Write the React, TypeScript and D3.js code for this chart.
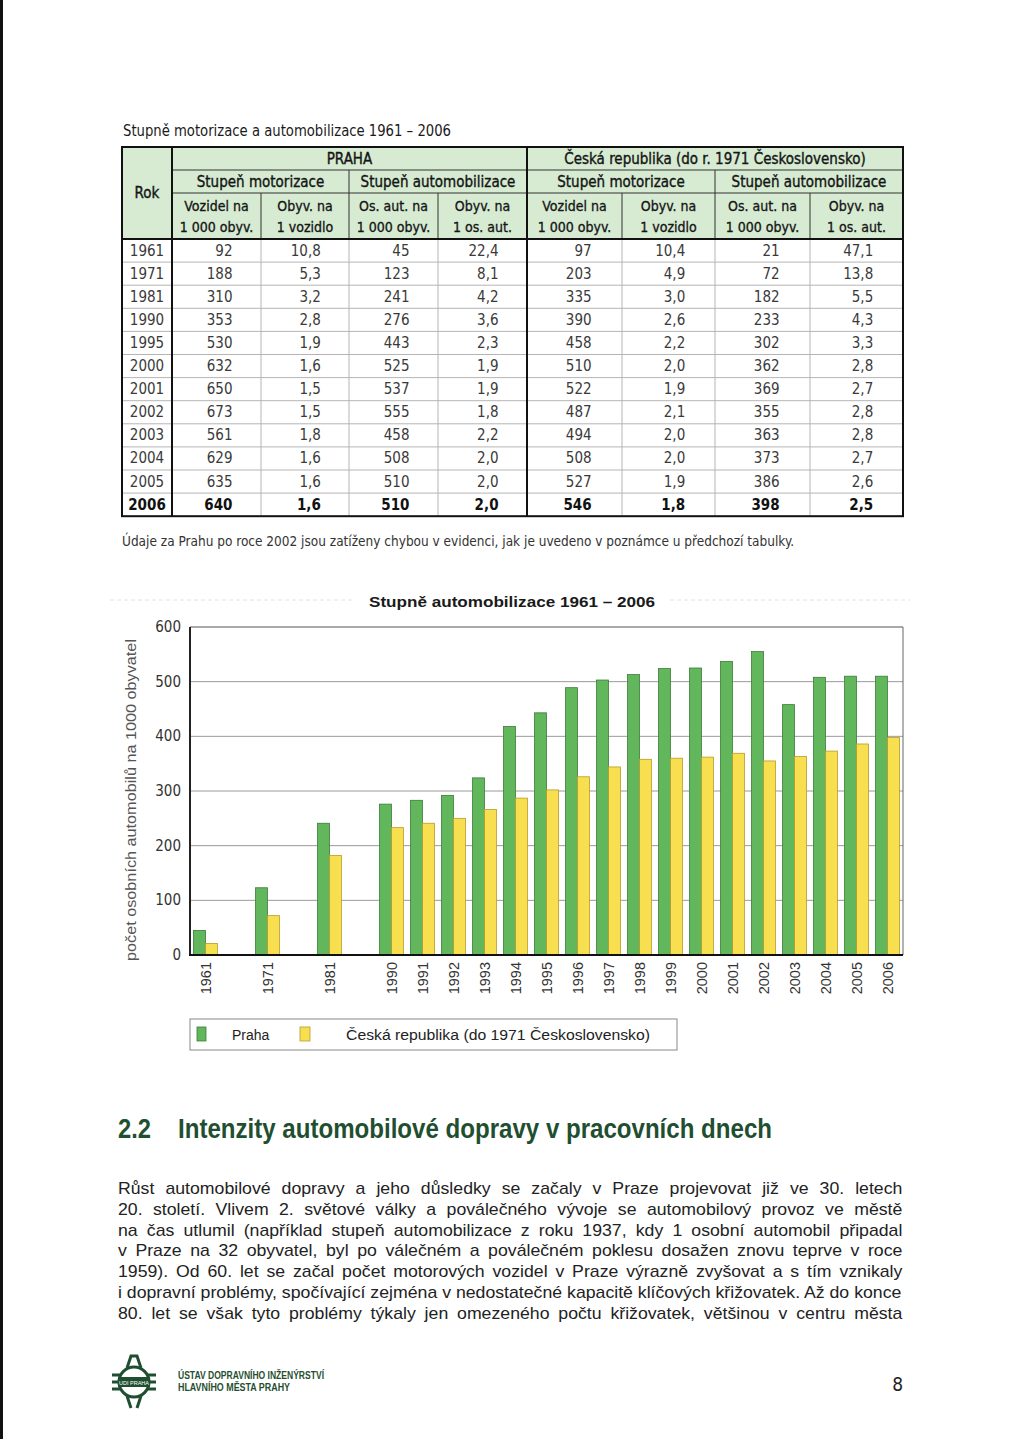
import React from 'react';
import * as d3 from 'd3';

// ---- table data (Stupně motorizace a automobilizace 1961 – 2006) ----
const tableYears = ['1961', '1971', '1981', '1990', '1995', '2000', '2001', '2002', '2003', '2004', '2005', '2006'];
const prahaVozidla = [92, 188, 310, 353, 530, 632, 650, 673, 561, 629, 635, 640];
const prahaObyvNaVozidlo = [10.8, 5.3, 3.2, 2.8, 1.9, 1.6, 1.5, 1.5, 1.8, 1.6, 1.6, 1.6];
const prahaOsAut = [45, 123, 241, 276, 443, 525, 537, 555, 458, 508, 510, 510];
const prahaObyvNaAuto = [22.4, 8.1, 4.2, 3.6, 2.3, 1.9, 1.9, 1.8, 2.2, 2.0, 2.0, 2.0];
const crVozidla = [97, 203, 335, 390, 458, 510, 522, 487, 494, 508, 527, 546];
const crObyvNaVozidlo = [10.4, 4.9, 3.0, 2.6, 2.2, 2.0, 1.9, 2.1, 2.0, 2.0, 1.9, 1.8];
const crOsAut = [21, 72, 182, 233, 302, 362, 369, 355, 363, 373, 386, 398];
const crObyvNaAuto = [47.1, 13.8, 5.5, 4.3, 3.3, 2.8, 2.7, 2.8, 2.8, 2.7, 2.6, 2.5];

const groupHeads = ['PRAHA', 'Česká republika (do r. 1971 Československo)'];
const subGroupHeads = ['Stupeň motorizace', 'Stupeň automobilizace', 'Stupeň motorizace', 'Stupeň automobilizace'];
const colHeads = [
  ['Vozidel na', '1 000 obyv.'],
  ['Obyv. na', '1 vozidlo'],
  ['Os. aut. na', '1 000 obyv.'],
  ['Obyv. na', '1 os. aut.'],
  ['Vozidel na', '1 000 obyv.'],
  ['Obyv. na', '1 vozidlo'],
  ['Os. aut. na', '1 000 obyv.'],
  ['Obyv. na', '1 os. aut.'],
];

// ---- chart data (os. automobilů na 1000 obyvatel) ----
const chartYears = [1961, 1971, 1981, 1990, 1991, 1992, 1993, 1994, 1995, 1996, 1997, 1998, 1999, 2000, 2001, 2002, 2003, 2004, 2005, 2006];
const prahaChart = [45, 123, 241, 276, 283, 292, 324, 418, 443, 489, 503, 513, 524, 525, 537, 555, 458, 508, 510, 510];
const crChart = [21, 72, 182, 233, 241, 250, 266, 287, 302, 326, 344, 358, 360, 362, 369, 355, 363, 373, 386, 398];
const yTicks = [0, 100, 200, 300, 400, 500, 600];
const seriesNames = ['Praha', 'Česká republika (do 1971 Československo)'];

const paragraph = [
  'Růst automobilové dopravy a jeho důsledky se začaly v Praze projevovat již ve 30. letech',
  '20. století. Vlivem 2. světové války a poválečného vývoje se automobilový provoz ve městě',
  'na čas utlumil (například stupeň automobilizace z roku 1937, kdy 1 osobní automobil připadal',
  'v Praze na 32 obyvatel, byl po válečném a poválečném poklesu dosažen znovu teprve v roce',
  '1959). Od 60. let se začal počet motorových vozidel v Praze výrazně zvyšovat a s tím vznikaly',
  'i dopravní problémy, spočívající zejména v nedostatečné kapacitě klíčových křižovatek. Až do konce',
  '80. let se však tyto problémy týkaly jen omezeného počtu křižovatek, většinou v centru města',
];

const NARROW = "'Liberation Sans Narrow', 'Arial Narrow', 'DejaVu Sans Condensed', sans-serif";
const SANS = "'Liberation Sans', Arial, Helvetica, sans-serif";
const GREEN = '#62b65c';
const GREEN_DARK = '#3b7d38';
const YELLOW = '#f7df4f';
const YELLOW_DARK = '#b89b2c';
const HEAD_GREEN = '#1f4f30';

const fmt1 = (v: number) => d3.format('.1f')(v).replace('.', ',');

// text width measuring, used to justify the paragraph
const ctx = document.createElement('canvas').getContext('2d')!;
const measure = (s: string, font: string) => {
  ctx.font = font;
  return ctx.measureText(s).width;
};

const Table: React.FC = () => {
  const cols = [122, 172, 261, 349, 438, 527, 622, 715, 810, 903];
  const top = 147;
  const r1 = 170;
  const r2 = 193;
  const headBottom = 239;
  const rowH = 23.1;
  const y = d3
    .scaleBand()
    .domain(tableYears)
    .range([headBottom, headBottom + rowH * tableYears.length]);
  const bottom = headBottom + rowH * tableYears.length;

  const columns: string[][] = [
    prahaVozidla.map(String),
    prahaObyvNaVozidlo.map(fmt1),
    prahaOsAut.map(String),
    prahaObyvNaAuto.map(fmt1),
    crVozidla.map(String),
    crObyvNaVozidlo.map(fmt1),
    crOsAut.map(String),
    crObyvNaAuto.map(fmt1),
  ];

  const head = { fontSize: 15, fill: '#151515', stroke: '#151515', strokeWidth: 0.35 } as const;

  return (
    <g fontFamily={NARROW}>
      <text x={123} y={136} fontSize={16} fill="#1a1a1a" textLength={328} lengthAdjust="spacingAndGlyphs">
        Stupně motorizace a automobilizace 1961 – 2006
      </text>
      <rect x={cols[0]} y={top} width={cols[9] - cols[0]} height={headBottom - top} fill="#d6ebd2" />

      {/* body grid */}
      {tableYears.slice(1).map((yr) => (
        <line key={'h' + yr} x1={cols[0]} x2={cols[9]} y1={y(yr)!} y2={y(yr)!} stroke="#b5b5b5" strokeWidth={1} />
      ))}
      {[2, 3, 4, 6, 7, 8].map((i) => (
        <line key={'bv' + i} x1={cols[i]} x2={cols[i]} y1={headBottom} y2={bottom} stroke="#b5b5b5" strokeWidth={1} />
      ))}

      {/* header grid */}
      <line x1={cols[1]} x2={cols[9]} y1={r1} y2={r1} stroke="#333" strokeWidth={1} />
      <line x1={cols[1]} x2={cols[9]} y1={r2} y2={r2} stroke="#333" strokeWidth={1} />
      {[3, 7].map((i) => (
        <line key={'hv' + i} x1={cols[i]} x2={cols[i]} y1={r1} y2={headBottom} stroke="#333" strokeWidth={1} />
      ))}
      {[2, 4, 6, 8].map((i) => (
        <line key={'hs' + i} x1={cols[i]} x2={cols[i]} y1={r2} y2={headBottom} stroke="#333" strokeWidth={1} />
      ))}

      {/* thick lines */}
      <line x1={cols[0]} x2={cols[9]} y1={headBottom} y2={headBottom} stroke="#111" strokeWidth={2} />
      <line x1={cols[1]} x2={cols[1]} y1={top} y2={bottom} stroke="#111" strokeWidth={2} />
      <line x1={cols[5]} x2={cols[5]} y1={top} y2={bottom} stroke="#111" strokeWidth={2} />
      <rect x={cols[0]} y={top} width={cols[9] - cols[0]} height={bottom - top} fill="none" stroke="#111" strokeWidth={2} />

      {/* header text */}
      <text x={(cols[0] + cols[1]) / 2} y={198} textAnchor="middle" {...head}>Rok</text>
      {groupHeads.map((g, i) => (
        <text key={g} x={(cols[1 + i * 4] + cols[5 + i * 4]) / 2} y={164} textAnchor="middle" {...head}>
          {g}
        </text>
      ))}
      {subGroupHeads.map((g, i) => (
        <text key={g + i} x={(cols[1 + i * 2] + cols[3 + i * 2]) / 2} y={187} textAnchor="middle" {...head}>
          {g}
        </text>
      ))}
      {colHeads.map((h, i) => (
        <g key={'ch' + i} fontSize={14} fill="#151515" stroke="#151515" strokeWidth={0.3}>
          <text x={(cols[1 + i] + cols[2 + i]) / 2} y={211} textAnchor="middle">{h[0]}</text>
          <text x={(cols[1 + i] + cols[2 + i]) / 2} y={232} textAnchor="middle">{h[1]}</text>
        </g>
      ))}

      {/* body text */}
      {tableYears.map((yr, r) => {
        const last = r === tableYears.length - 1;
        const by = y(yr)! + rowH / 2 + 5;
        return (
          <g key={'row' + yr} fontWeight={last ? 'bold' : 'normal'} fill={last ? '#111' : '#3a3a3a'} fontSize={15}>
            <text x={(cols[0] + cols[1]) / 2} y={by} textAnchor="middle">{yr}</text>
            {columns.map((c, ci) => (
              <text key={ci} x={cols[1 + ci] + 0.68 * (cols[2 + ci] - cols[1 + ci])} y={by} textAnchor="end">
                {c[r]}
              </text>
            ))}
          </g>
        );
      })}

      <text x={122} y={546} fontSize={14} fill="#333" textLength={672} lengthAdjust="spacingAndGlyphs">
        Údaje za Prahu po roce 2002 jsou zatíženy chybou v evidenci, jak je uvedeno v poznámce u předchozí tabulky.
      </text>
    </g>
  );
};

const Chart: React.FC = () => {
  const left = 190;
  const right = 903;
  const top = 627;
  const bottom = 955;

  // category slots, with one empty slot for each gap between non-consecutive years
  const slots: string[] = [];
  chartYears.forEach((yr, i) => {
    if (i > 0 && yr - chartYears[i - 1] > 1) slots.push('gap' + yr);
    slots.push(String(yr));
  });

  const x = d3.scaleBand().domain(slots).range([left, right]).paddingInner(0.226).paddingOuter(0.113);
  const xs = d3.scaleBand().domain(['praha', 'cr']).range([0, x.bandwidth()]);
  const y = d3.scaleLinear().domain([0, 600]).range([bottom, top]);

  return (
    <g>
      <line x1={110} x2={910} y1={600} y2={600} stroke="#e2e2e2" strokeWidth={1} strokeDasharray="4,3" />
      <rect x={355} y={590} width={314} height={20} fill="#fff" />
      <text x={512} y={607} textAnchor="middle" fontFamily={SANS} fontWeight="bold" fontSize={15} fill="#1a1a1a"
        textLength={286} lengthAdjust="spacingAndGlyphs">
        Stupně automobilizace 1961 – 2006
      </text>

      {/* grid */}
      {yTicks.filter((t) => t > 0 && t < 600).map((t) => (
        <line key={'g' + t} x1={left} x2={right} y1={y(t)} y2={y(t)} stroke="#9a9a9a" strokeWidth={1} />
      ))}
      <line x1={left} x2={right} y1={y(600)} y2={y(600)} stroke="#555" strokeWidth={1} />
      <line x1={right} x2={right} y1={y(600)} y2={y(0)} stroke="#666" strokeWidth={1} />

      {/* bars */}
      {chartYears.map((yr, i) => {
        const x0 = x(String(yr))!;
        return (
          <g key={'b' + yr}>
            <rect x={x0 + xs('praha')!} y={y(prahaChart[i])} width={xs.bandwidth()} height={y(0) - y(prahaChart[i])}
              fill={GREEN} stroke={GREEN_DARK} strokeWidth={0.8} />
            <rect x={x0 + xs('cr')!} y={y(crChart[i])} width={xs.bandwidth()} height={y(0) - y(crChart[i])}
              fill={YELLOW} stroke={YELLOW_DARK} strokeWidth={0.8} />
          </g>
        );
      })}

      {/* axes */}
      <line x1={left} x2={left} y1={top} y2={bottom} stroke="#222" strokeWidth={2} />
      <line x1={left - 1} x2={right} y1={bottom} y2={bottom} stroke="#111" strokeWidth={2} />

      {yTicks.map((t) => (
        <text key={'yt' + t} x={181} y={y(t) + 5} textAnchor="end" fontFamily={NARROW} fontSize={15} fill="#333">
          {t}
        </text>
      ))}

      {chartYears.map((yr) => {
        const cx = x(String(yr))! + x.bandwidth() / 2;
        return (
          <text key={'xt' + yr} transform={`translate(${cx},962) rotate(-90)`} textAnchor="end" dy="0.35em"
            fontFamily={SANS} fontSize={14.5} fill="#333">
            {yr}
          </text>
        );
      })}

      <text transform="translate(131,800) rotate(-90)" textAnchor="middle" dy="0.35em" fontFamily={SANS} fontSize={15}
        fill="#555" textLength={322} lengthAdjust="spacingAndGlyphs">
        počet osobních automobilů na 1000 obyvatel
      </text>

      {/* legend */}
      <rect x={190} y={1019} width={487} height={31} fill="#fff" stroke="#888" strokeWidth={1} />
      <rect x={197} y={1027} width={9} height={14} fill={GREEN} stroke={GREEN_DARK} strokeWidth={0.8} />
      <text x={232} y={1040} fontFamily={SANS} fontSize={14} fill="#222">{seriesNames[0]}</text>
      <rect x={300} y={1027} width={10} height={14} fill={YELLOW} stroke={YELLOW_DARK} strokeWidth={0.8} />
      <text x={346} y={1040} fontFamily={SANS} fontSize={14} fill="#222" textLength={304} lengthAdjust="spacingAndGlyphs">
        {seriesNames[1]}
      </text>
    </g>
  );
};

const TextBlock: React.FC = () => {
  const font = "16px 'Liberation Sans'";
  const width = 785;
  const naturals = paragraph.map((l) => measure(l, font));
  // glyph scale chosen so the tightest line is set with plain word spaces
  const sx = d3.min(naturals, (n) => width / n) ?? 1;
  return (
    <g>
      <text x={118} y={1138} fontFamily={SANS} fontWeight="bold" fontSize={27} fill={HEAD_GREEN}
        textLength={33} lengthAdjust="spacingAndGlyphs">2.2</text>
      <text x={178} y={1138} fontFamily={SANS} fontWeight="bold" fontSize={27} fill={HEAD_GREEN}
        textLength={594} lengthAdjust="spacingAndGlyphs">
        Intenzity automobilové dopravy v pracovních dnech
      </text>
      {paragraph.map((line, i) => {
        const spaces = line.split(' ').length - 1;
        const ws = (width / sx - naturals[i]) / spaces;
        return (
          <text key={i} transform={`translate(118,${1194 + i * 20.8}) scale(${sx},1)`} fontFamily={SANS} fontSize={16}
            fill="#222" style={{ wordSpacing: `${ws}px` }}>
            {line}
          </text>
        );
      })}
    </g>
  );
};

const Footer: React.FC = () => (
  <g>
    <g stroke={HEAD_GREEN} fill="none" strokeWidth={3}>
      <circle cx={134} cy={1382} r={15} />
      <path d="M127,1368 L131,1356 L137,1356 L141,1368" />
      <path d="M127,1396 L131,1408 M141,1396 L137,1408" />
      {[1375, 1382, 1389].map((yy) => (
        <g key={yy}>
          <line x1={112} x2={121} y1={yy} y2={yy} />
          <line x1={147} x2={156} y1={yy} y2={yy} />
        </g>
      ))}
    </g>
    <rect x={118} y={1377} width={32} height={10} fill={HEAD_GREEN} />
    <text x={134} y={1384.5} textAnchor="middle" fontFamily={SANS} fontSize={5.5} fill="#fff">UDI PRAHA</text>
    <text x={178} y={1379} fontFamily={SANS} fontWeight="bold" fontSize={10} fill={HEAD_GREEN}
      textLength={146} lengthAdjust="spacingAndGlyphs">ÚSTAV DOPRAVNÍHO INŽENÝRSTVÍ</text>
    <text x={178} y={1391} fontFamily={SANS} fontWeight="bold" fontSize={10} fill={HEAD_GREEN}
      textLength={112} lengthAdjust="spacingAndGlyphs">HLAVNÍHO MĚSTA PRAHY</text>
    <text x={903} y={1391} textAnchor="end" fontFamily={NARROW} fontSize={19} fill="#222">8</text>
  </g>
);

const App: React.FC = () => (
  <svg width={1024} height={1439} style={{ position: 'absolute', left: 0, top: 0, background: '#fff' }}>
    <rect x={0} y={0} width={1024} height={1439} fill="#fff" />
    <rect x={0} y={0} width={3} height={1439} fill="#111" />
    <Table />
    <Chart />
    <TextBlock />
    <Footer />
  </svg>
);

export default App;
